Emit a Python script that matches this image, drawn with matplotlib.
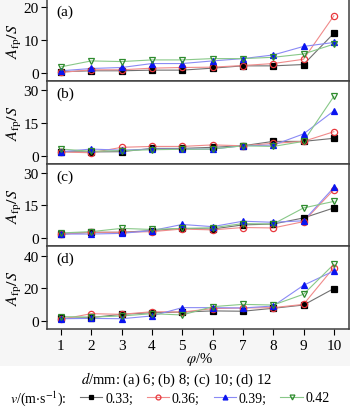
import numpy as np
import matplotlib
matplotlib.use("Agg")
import matplotlib.pyplot as plt
from matplotlib.lines import Line2D
from matplotlib.patches import Rectangle

plt.rcParams['font.family'] = ['Liberation Serif', 'DejaVu Serif']
plt.rcParams['mathtext.fontset'] = 'stix'

phi = [1, 2, 3, 4, 5, 6, 7, 8, 9, 10]
speeds = ['0.33', '0.36', '0.39', '0.42']
panels = ['(a)', '(b)', '(c)', '(d)']

# A_fp/S for each panel, one list per speed
a_033 = [0.4, 0.7, 0.7, 0.9, 0.9, 1.5, 2.2, 2.2, 2.6, 12.1]
a_036 = [0.2, 1.0, 1.0, 1.5, 1.7, 1.8, 2.3, 2.9, 4.2, 17.4]
a_039 = [0.7, 1.4, 1.7, 2.9, 2.9, 3.7, 4.4, 5.5, 8.1, 9.3]
a_042 = [1.9, 3.7, 3.5, 4.0, 4.0, 4.4, 4.4, 4.8, 5.8, 8.8]

b_033 = [1.8, 1.7, 1.8, 3.3, 3.3, 3.8, 4.5, 6.5, 6.5, 7.9]
b_036 = [1.7, 1.3, 3.8, 4.2, 4.2, 4.9, 4.5, 5.6, 6.5, 10.9]
b_039 = [1.8, 3.0, 2.5, 3.0, 3.0, 3.0, 4.5, 4.8, 9.9, 20.4]
b_042 = [3.0, 2.0, 2.3, 2.7, 2.9, 3.0, 4.5, 4.2, 6.5, 27.0]

c_033 = [1.8, 2.6, 2.6, 3.4, 4.4, 4.1, 6.0, 6.4, 9.2, 13.8]
c_036 = [1.8, 2.6, 2.6, 2.9, 4.1, 3.7, 4.8, 4.6, 7.5, 22.2]
c_039 = [1.8, 1.8, 2.1, 3.4, 6.2, 5.2, 7.7, 7.2, 7.9, 23.2]
c_042 = [2.3, 2.9, 4.4, 3.9, 4.4, 4.7, 6.6, 6.4, 13.8, 16.8]

d_033 = [1.6, 2.1, 4.1, 5.1, 5.5, 6.2, 6.0, 7.8, 9.8, 19.9]
d_036 = [1.0, 4.5, 4.1, 5.7, 5.5, 7.6, 8.0, 8.2, 10.2, 32.8]
d_039 = [1.4, 1.6, 1.4, 3.1, 8.2, 8.2, 8.0, 9.2, 21.9, 30.7]
d_042 = [2.7, 2.4, 3.1, 4.5, 3.7, 8.8, 10.2, 9.8, 16.4, 34.8]

data = [[a_033, a_036, a_039, a_042],
        [b_033, b_036, b_039, b_042],
        [c_033, c_036, c_039, c_042],
        [d_033, d_036, d_039, d_042]]

yticks = [[0, 10, 20], [0, 15, 30], [0, 15, 30], [0, 20, 40]]
ylims = [(-2.4, 22.5), (-3.8, 34), (-3.7, 34), (-4.9, 46)]

mcol = ['black', '#e8383d', '#0a14f0', '#2e8b2e']
lcol = ['#707070', '#f08a8a', '#8a8af5', '#88c888']
mk = ['s', 'o', '^', 'v']
mfc = ['black', 'none', '#0a14f0', 'none']

fig = plt.figure(figsize=(3.5, 4.1), dpi=100, facecolor='#f6f6f6')
fig.patches.append(Rectangle((0, 0), 1, 43 / 410, transform=fig.transFigure,
                             facecolor='white', edgecolor='none', zorder=-1))

W, H = 350, 410
left, right = 47, 349
tops = [0, 82, 165, 247]
bots = [82, 165, 247, 330]

for i in range(4):
    ax = fig.add_axes([left / W, 1 - bots[i] / H, (right - left) / W,
                       (bots[i] - tops[i]) / H])
    ax.set_facecolor('white')
    for j in range(4):
        ax.plot(phi, data[i][j], color=lcol[j], lw=0.8, zorder=2)
        ax.plot(phi, data[i][j], ls='none', marker=mk[j], ms=4.5,
                mfc=mfc[j], mec=mcol[j], mew=0.9, zorder=3)
    ax.set_xlim(0.54, 10.5)
    ax.set_ylim(*ylims[i])
    ax.set_yticks(yticks[i])
    ax.set_xticks(phi)
    ax.tick_params(axis='y', direction='out', length=4, width=0.8,
                   labelsize=11, pad=2, right=False)
    if i < 3:
        ax.tick_params(axis='x', bottom=False, labelbottom=False)
    else:
        ax.tick_params(axis='x', direction='out', length=4, width=0.8,
                       labelsize=11, pad=3, top=False)
    for s in ax.spines.values():
        s.set_linewidth(1.1)
        s.set_color('#404040')
    ax.set_ylabel(r'$A_{\mathrm{fp}}/S$', fontsize=11.5)
    ax.yaxis.set_label_coords(-0.075, 0.5)
    ax.text(0.03, 0.93, panels[i], transform=ax.transAxes, fontsize=11,
            ha='left', va='top')

fig.text(199 / W, 1 - 360 / H, r'$\varphi$/%', fontsize=10.5,
         ha='center', va='center')
fig.text(177 / W, 1 - 380 / H, r'$d$/mm: (a) 6; (b) 8; (c) 10; (d) 12',
         fontsize=10.5, ha='center', va='center')
fig.text(10 / W, 1 - 399 / H, r'$v$/(m$\cdot$s$^{-1}$):', fontsize=10,
         ha='left', va='center')

handles = [Line2D([], [], color=lcol[j], lw=0.8, marker=mk[j], ms=3.5,
                  mfc=mfc[j], mec=mcol[j], mew=0.9) for j in range(4)]
labels = [s + ';' for s in speeds[:3]] + [speeds[3]]
fig.legend(handles, labels, ncol=4, frameon=False, fontsize=10,
           loc='center left', bbox_to_anchor=(80 / W, 1 - 399 / H),
           handlelength=1.6, handletextpad=0.2, columnspacing=1.0,
           borderpad=0, borderaxespad=0)

fig.savefig('out.png', dpi=100, facecolor=fig.get_facecolor())
